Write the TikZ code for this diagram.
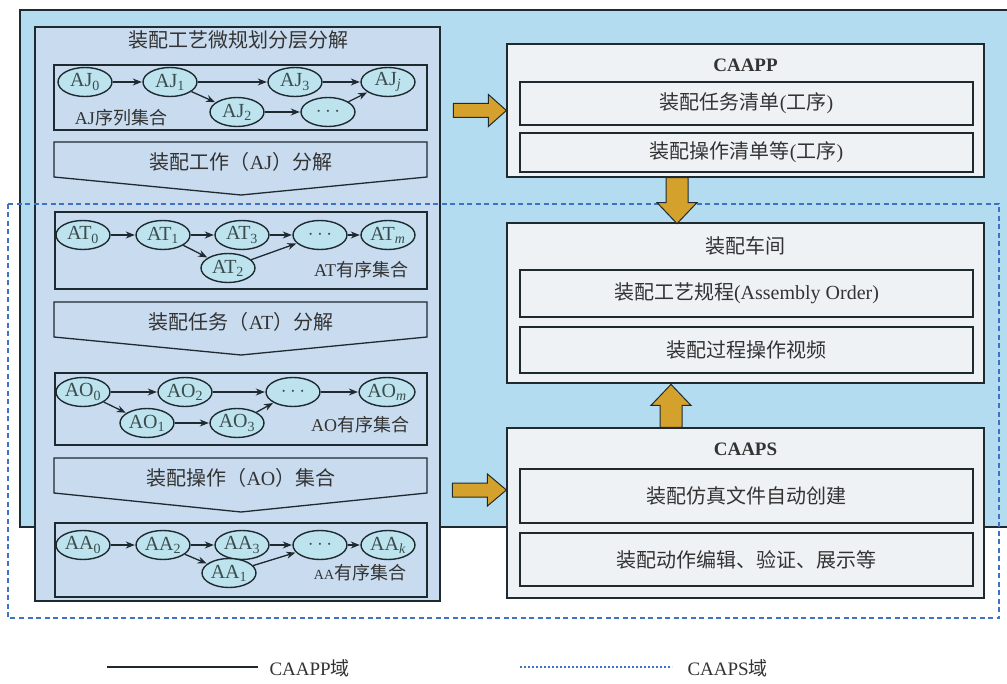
\documentclass[tikz,border=0pt]{standalone}
\usepackage{fontspec}
\setmainfont{Liberation Serif}
\newfontfamily\cjk{Noto Sans CJK SC}
\usetikzlibrary{shapes.geometric,arrows.meta,calc}
\definecolor{caappblue}{HTML}{B4DCF0}
\definecolor{panelfill}{HTML}{C8DBEF}
\definecolor{ellfill}{HTML}{BDE4EE}
\definecolor{boxfill}{HTML}{EEF2F4}
\definecolor{fatorange}{HTML}{D4A12C}
\definecolor{dashblue}{HTML}{3D72C4}
\definecolor{txt}{HTML}{333333}
\definecolor{elltxt}{HTML}{3C4C4E}
\definecolor{linedark}{HTML}{1E2A30}
\begin{document}
\begin{tikzpicture}[x=1pt,y=-1pt,
  every node/.style={text=txt},
  panelbox/.style={draw=linedark,line width=1.3pt,fill=panelfill,inner sep=0pt},
  rbox/.style={draw=linedark,line width=1.2pt,fill=boxfill,inner sep=0pt},
  ell/.style={ellipse,draw=linedark,line width=1.4pt,fill=ellfill,minimum width=54pt,minimum height=29pt,inner sep=0pt,text=elltxt,font=\fontsize{20}{20}\selectfont},
  sarr/.style={draw=linedark,line width=1.3pt,-{Stealth[length=9pt,width=7pt]},shorten >=0.5pt},
  chev/.style={draw=linedark,line width=1.3pt,fill=panelfill},
  ttl/.style={font=\fontsize{20}{22}\selectfont},
  lbl/.style={font=\fontsize{18}{20}\selectfont},
  hdr/.style={font=\fontsize{19}{21}\selectfont\bfseries},
  fat/.style={draw=linedark,line width=1pt,fill=fatorange,line join=miter},
]
\useasboundingbox (0,0) rectangle (1007,684);
\fill[white] (0,0) rectangle (1007,684);
% CAAPP domain
\fill[caappblue] (20,10) rectangle (1012,527);
\draw[line width=1.2pt,linedark] (1012,10) -- (20,10) -- (20,527) -- (1012,527);

% left panel
\node[panelbox,minimum width=405pt,minimum height=574pt] (panel) at (237.5,314) {};
\node[ttl] (ptitle) at (238,40) {\cjk 装配工艺微规划分层分解};

% AJ box
\node[panelbox,minimum width=373pt,minimum height=65pt] (ajbox) at (240.5,97.5) {};
\node[ell] (AJ0) at (85,82) {AJ\textsubscript{0}};
\node[ell] (AJ1) at (170,82) {AJ\textsubscript{1}};
\node[ell] (AJ3) at (295,82) {AJ\textsubscript{3}};
\node[ell] (AJj) at (388,82) {AJ\textsubscript{\itshape j}};
\node[ell] (AJ2) at (237,112) {AJ\textsubscript{2}};
\node[ell] (AJd) at (328,112) {$\cdots$};
\node[lbl] (ajl) at (121,118) {AJ{\cjk 序列集合}};
\draw[sarr] (AJ0) -- (AJ1);
\draw[sarr] (AJ1) -- (AJ3);
\draw[sarr] (AJ3) -- (AJj);
\draw[sarr] (AJ1) -- (AJ2);
\draw[sarr] (AJ2) -- (AJd);
\draw[sarr] (AJd) -- (AJj);

% chevron 1
\draw[chev] (54,142) -- (427,142) -- (427,177) -- (241,195) -- (54,177) -- cycle;
\node[ttl] (c1) at (241,162) {{\cjk 装配工作（}AJ{\cjk ）分解}};

% AT box
\node[panelbox,minimum width=372pt,minimum height=77pt] (atbox) at (241,250.5) {};
\node[ell] (AT0) at (83,235) {AT\textsubscript{0}};
\node[ell] (AT1) at (163,235) {AT\textsubscript{1}};
\node[ell] (AT3) at (242,235) {AT\textsubscript{3}};
\node[ell] (ATd) at (320,235) {$\cdots$};
\node[ell] (ATm) at (388,235) {AT\textsubscript{\itshape m}};
\node[ell] (AT2) at (228,268) {AT\textsubscript{2}};
\node[lbl] (atl) at (361,270) {AT{\cjk 有序集合}};
\draw[sarr] (AT0) -- (AT1);
\draw[sarr] (AT1) -- (AT3);
\draw[sarr] (AT1) -- (AT2);
\draw[sarr] (AT3) -- (ATd);
\draw[sarr] (AT2) -- (ATd);
\draw[sarr] (ATd) -- (ATm);

% chevron 2
\draw[chev] (54,302) -- (427,302) -- (427,337) -- (241,355) -- (54,337) -- cycle;
\node[ttl] (c2) at (241,322) {{\cjk 装配任务（}AT{\cjk ）分解}};

% AO box
\node[panelbox,minimum width=372pt,minimum height=72pt] (aobox) at (241,409) {};
\node[ell] (AO0) at (83,392) {AO\textsubscript{0}};
\node[ell] (AO2) at (185,392) {AO\textsubscript{2}};
\node[ell] (AOd) at (293,392) {$\cdots$};
\node[ell] (AOm) at (387,392) {AO\textsubscript{\itshape m}};
\node[ell] (AO1) at (147,423) {AO\textsubscript{1}};
\node[ell] (AO3) at (237,423) {AO\textsubscript{3}};
\node[lbl] (aol) at (360,425) {AO{\cjk 有序集合}};
\draw[sarr] (AO0) -- (AO2);
\draw[sarr] (AO2) -- (AOd);
\draw[sarr] (AOd) -- (AOm);
\draw[sarr] (AO0) -- (AO1);
\draw[sarr] (AO1) -- (AO3);
\draw[sarr] (AO3) -- (AOd);

% chevron 3
\draw[chev] (54,458) -- (427,458) -- (427,493) -- (241,512) -- (54,493) -- cycle;
\node[ttl] (c3) at (241,478) {{\cjk 装配操作（}AO{\cjk ）集合}};

% AA box
\node[panelbox,minimum width=372pt,minimum height=74pt] (aabox) at (241,560) {};
\node[ell] (AA0) at (83,545) {AA\textsubscript{0}};
\node[ell] (AA2) at (163,545) {AA\textsubscript{2}};
\node[ell] (AA3) at (242,545) {AA\textsubscript{3}};
\node[ell] (AAd) at (320,545) {$\cdots$};
\node[ell] (AAk) at (388,545) {AA\textsubscript{\itshape k}};
\node[ell] (AA1) at (229,573) {AA\textsubscript{1}};
\node[lbl] (aal) at (360,573) {{\fontsize{14}{16}\selectfont AA}{\cjk 有序集合}};
\draw[sarr] (AA0) -- (AA2);
\draw[sarr] (AA2) -- (AA3);
\draw[sarr] (AA2) -- (AA1);
\draw[sarr] (AA3) -- (AAd);
\draw[sarr] (AA1) -- (AAd);
\draw[sarr] (AAd) -- (AAk);

% right column
\node[rbox,minimum width=477pt,minimum height=133pt] (caapp) at (745.5,110.5) {};
\node[hdr] (caappt) at (745.5,65) {CAAPP};
\node[rbox,minimum width=453pt,minimum height=43pt] (list1) at (746.5,103.5) {};
\node[ttl] at (list1) {{\cjk 装配任务清单}({\cjk 工序})};
\node[rbox,minimum width=453pt,minimum height=39pt] (list2) at (746.5,152.5) {};
\node[ttl] at (list2) {{\cjk 装配操作清单等}({\cjk 工序})};

\node[rbox,minimum width=477pt,minimum height=160pt] (shop) at (745.5,303) {};
\node[ttl] (shopt) at (745.5,246) {\cjk 装配车间};
\node[rbox,minimum width=453pt,minimum height=47pt] (order) at (746.5,293.5) {};
\node[ttl] at (order) {{\cjk 装配工艺规程}(Assembly Order)};
\node[rbox,minimum width=453pt,minimum height=46pt] (video) at (746.5,350) {};
\node[ttl] at (video) {\cjk 装配过程操作视频};

\node[rbox,minimum width=477pt,minimum height=170pt] (caaps) at (745.5,513) {};
\node[hdr] (caapst) at (745.5,449) {CAAPS};
\node[rbox,minimum width=453pt,minimum height=54pt] (sim) at (746.5,496) {};
\node[ttl] at (sim) {\cjk 装配仿真文件自动创建};
\node[rbox,minimum width=453pt,minimum height=53pt] (edit) at (746.5,559.5) {};
\node[ttl] at (edit) {\cjk 装配动作编辑、验证、展示等};

% CAAPS domain (dashed)
\draw[dashblue,line width=1.3pt,dash pattern=on 5pt off 3.5pt] (8,204) rectangle (999,618);

% fat arrows
\draw[fat] ($(caapp.west)+(-53,-7)$) -- ++(35,0) -- ++(0,-9) -- ++(18,16) -- ++(-18,16) -- ++(0,-9) -- ++(-35,0) -- cycle;
\draw[fat] ($(caaps.west)+(-54,-30)$) -- ++(35,0) -- ++(0,-9) -- ++(19,16) -- ++(-19,16) -- ++(0,-9) -- ++(-35,0) -- cycle;
\draw[fat] ($(caapp.south)+(-79.5,0)$) -- ++(22,0) -- ++(0,25) -- ++(9,0) -- ++(-20,21) -- ++(-20,-21) -- ++(9,0) -- cycle;
\draw[fat] ($(caaps.north)+(-85.5,0)$) -- ++(22,0) -- ++(0,-22) -- ++(9,0) -- ++(-20,-21) -- ++(-20,21) -- ++(9,0) -- cycle;

% legend
\coordinate (l1a) at (107,667);
\coordinate (l1b) at (258,667);
\draw[linedark,line width=1.6pt] (l1a) -- (l1b);
\node[anchor=west,font=\fontsize{19}{21}\selectfont] (leg1) at (266,668) {CAAPP{\cjk 域}};
\coordinate (l2a) at (520,667);
\coordinate (l2b) at (672,667);
\draw[dashblue,line width=1.6pt,dash pattern=on 2pt off 2pt] (l2a) -- (l2b);
\node[anchor=west,font=\fontsize{19}{21}\selectfont] (leg2) at (684,668) {CAAPS{\cjk 域}};
\end{tikzpicture}
\end{document}
